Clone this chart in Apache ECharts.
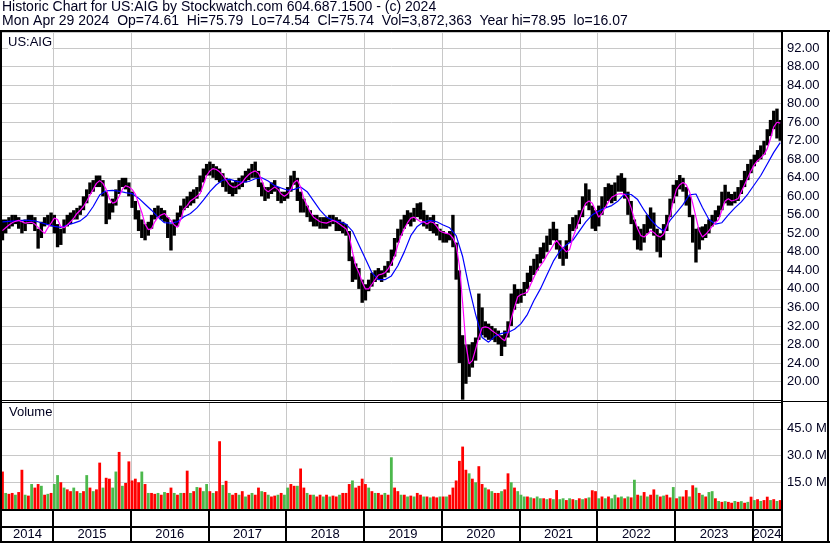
<!DOCTYPE html>
<html><head><meta charset="utf-8">
<script src="https://cdn.jsdelivr.net/npm/echarts@6/dist/echarts.min.js"></script>
<style>html,body{margin:0;padding:0;background:#fff}#c{width:830px;height:543px}</style>
</head><body><div id="c"></div>
<script>
const titleLine1 = 'Historic Chart for US:AIG by Stockwatch.com 604.687.1500 - (c) 2024';
const titleLine2 = 'Mon Apr 29 2024  Op=74.61  Hi=75.79  Lo=74.54  Cl=75.74  Vol=3,872,363  Year hi=78.95  lo=16.07';
const symbolLabel = 'US:AIG';
const volumeLabel = 'Volume';
const yearLabels = ['2014','2015','2016','2017','2018','2019','2020','2021','2022','2023','2024'];

// semi-monthly samples starting early May 2014
const priceHigh = [
55,55,55.5,56,56,55.5,54.5,55,56,56,55.5,53,54.5,55.5,56,56.5,
56,54,53,55,56,56.5,57,57.5,58,60,61.5,63,63.5,64.5,64.5,63.5,61,58.5,59.5,61.5,63.5,64,64,63,
61,59,57,55,54,54.5,56,57.5,58,57.5,57,55.5,54,55,56.5,58,59.5,60,61,61.5,62,64.5,66,67,
67.5,67,66.5,66,65,64,63.5,63,63.5,64,64.5,65.5,66,67,67.5,65.5,63,62,62,63,63.5,62,61,61,
62,64.5,65.5,64,61,59.5,58,57,56,56,55.5,55.5,55.5,56,56,55.5,55,54.5,54,52.5,47,45.5,44.5,42,
41,42,43.5,44,44.5,44,45,46,48.5,51,53,55,56,57,56.5,57.5,58.5,58.7,57,56,55.5,56,54,53,
52.5,52,52.5,56,50,44,30,28,28,28.5,29.5,39,36,33,32.5,32,31.5,31,30,31,33,39,41,40,
40,41.5,43.5,45,46.5,47.5,49,50,51.5,53,54.5,53,50.5,49,50.5,54,55.5,56,57,60,62.8,61.5,58,57,
58,60,62,62.8,62.5,63,64.5,65,64,61,59,55,53.5,53,54,56,57.6,56.5,53,52,54,56,59.5,62.5,
63.5,64.6,64,62,60,56,53,53.3,53.5,54,55,56,57,58,61,62.5,61,60.5,61,62,63.5,65.5,67,68,
69,70,71,72,74.5,76.5,78.5,78.95,76.5];
const priceLow = [
50.5,52,53,53.5,54,53,52,52.5,54,54,52.5,48.7,51,53.5,54,53.5,
52,49,49.5,52,53.5,54,55,55,56,57,58.5,60.5,61,62,62,60,54,55,56.5,58,60.5,62,61.5,60,
57.5,55,52.5,51,50.5,51.5,53,55,55.5,55,54.5,51,48.3,51.5,53.5,55.5,57,57.5,58,58.5,59.5,61,63,64.5,
64.5,64,63.5,63,62,61,60.5,60,60.5,61.5,62,63,63.5,64,64,62,60,59,59.5,60.5,61,59,58.5,59,
59.5,61,62.5,59,56.5,56.5,55.5,54.5,53.5,53.5,53,53,53,53.5,54,52.5,52.5,52,51.5,46,41.5,42,40,37,
37.5,39.5,40.5,41.5,42,41.5,42.5,43.5,45,47,50,51.5,53,54,53.5,54.5,55.5,55,53.5,53,52.5,52,51.5,50.5,
50,50,50.5,49,42,24,16.07,19.5,21,23,24.5,29,30,29.5,29,29,28.5,28,25.5,27.5,29.5,32,35.5,36.8,
37,38.5,40,41.5,43,44,45.5,46.5,48,49.5,50.5,48.5,46.5,45,46.5,50,52.5,53,54,55.5,58,57,53,52.5,
53.5,56,57.6,59,58.5,59,61,61,59.5,56,54,50.5,48.5,48.3,50,52,53,51.5,48,46.8,50.5,52.5,55.5,58.5,
60,61.5,61,58,55.5,50,45.7,48.5,50.5,51,52,53.5,54.5,55.5,57,58.5,58,58,58.5,59,60.5,62,63.5,65,
66.5,67.5,68,69,71,73,74.5,72.5,72];
const maFast = [
52.6,53.2,53.8,54.3,54.6,54.8,54.5,54.2,54.3,54.4,54,53.3,52.6,52,53.2,54.2,
55.3,55,53.5,53.2,53.8,54.5,55.3,56.3,57,57.8,59,60.3,61.5,62.8,63.4,62.8,61.5,59.5,58.5,58.8,60,61.5,62.3,62,
61.5,60.5,58.5,56.5,54,52.8,53,54.5,55.5,56,56.3,55.5,54.8,53.8,53.3,55,57.3,58,59,59.5,60,60.6,62.5,64.5,
65.5,66,65.8,65.3,64.5,63.5,62.5,62,62,62.5,63,64,64.7,65.2,65.5,65,63.5,61.5,61,61.5,62,61.5,60.5,60,
60.5,61.5,63,63.5,62,59.5,58,56.5,55.5,55,54.5,54.3,54.2,54.5,54.8,54.5,54,53.5,53,51.5,48,45,43.5,41.5,
40,40,41,42,43,43.2,43.5,44.3,45.5,47,49.5,51.5,53,54.3,55.3,55.5,55,54.5,54.5,54,54.5,54.3,53.5,52.5,
52.2,52,51.8,51,49.5,45,37,28,23.8,24.5,27,29.5,31.6,31.8,31.6,31,30.5,30,29.3,28.8,30.5,33.5,36,38.3,
38.8,39,39.3,41,42.5,44,45,46,47.3,48.3,49.5,50.5,49.5,48.8,48,48.5,51,53,55,57,58.5,59,58.5,57,
55.5,56.3,57.6,58.8,59.8,60.2,60.5,60.6,60.4,59.5,57.5,55,53,51.5,51.2,51.8,52.6,52.2,51.5,51.2,51.8,53.5,55.8,59,
61.5,62.5,63,62.5,61,58.5,55.5,52.5,51.2,51.8,52.6,53.5,54.3,55,57,59,59.5,59,59.2,59.5,61,62.5,64,65.5,
66.8,67.7,68.3,69,70.3,72.5,75,76,75.8];
// monthly samples
const maSlow = [
54.5,54.6,54.7,54.8,54.8,54.7,54.3,53.9,
53.5,53.3,53.8,54.2,54.7,55.8,57.8,60.3,61.2,61.3,61.1,60.8,
60.6,59.6,58.3,57,55.5,54.3,54.2,54.5,55.6,56.3,57.5,59.2,
61,62.5,63.5,63.7,63.3,63,63.2,63.8,64,63.3,62.3,61.8,
61.3,61.5,62,61,59,57,55.5,54.8,54.5,54,52.5,49.5,
46.5,43.5,42,42,42.8,45,48,51.5,53.5,54.5,54.8,54.5,
53.8,53.2,51.5,47,40.3,34.5,29.5,28.5,29.8,30.4,30.6,31.3,
32.5,34.5,37.5,40,43,46,48.2,49.5,50.5,52.5,54.5,56,
56.8,57.5,58,59,60.5,60.4,59.3,57,55,53.5,52.5,54.8,
56.5,58.2,60.3,60.5,57.6,55,54,54.3,56,57.5,58.8,60.5,
62.5,64.5,67,69.5,71.6];
// volume, millions of shares (semi-monthly)
const volume = [
21,9,8.5,9,8,9.5,22,8,7.5,14,12,14,13,8,8.5,9,
14,19,15,12,11,10,12,10,9,10,19,12,10,11,26,12,17.5,17,12,21,32,13,14.6,26.7,
16,17,15,21,14,9,9,8.5,9,8,9.5,9,12,9,8,9,9,21.5,9,10,12.3,12,10,14,
10,9,10,38,13.5,15.8,9,8,9,8,10,7,8,9,8,12,10,9.5,8,7,7.5,8,9,8,
12,14,13,13,22.7,12,9,8,8,7,8,7,8,7,7.5,7,8,9,9,14,16,12,13,17,
14,12,10,9,9,8,9,8,29,12,10,8,8,7,7.5,7,9,8,7,7,6.5,7,6.5,7,
7,7,8,12,16,27,35,22,20,17,15,24,14,12,11,10,9,9,10,11,20,15,12,10,
8,7,7,6.5,6,7,6,6,5.5,6,5.5,10.6,5.5,6,5,6,5.5,5,6,5.5,6,6.5,10.5,10,
6,7,6,7,6,8,6.5,7,6,7,6.5,16.4,8,7.5,9.5,7,8,11,8,7,7.5,8,6.5,12.3,
6,7,7,10.6,7,13.3,12,9,8,7,9.5,10,6,4.5,4,4.4,4,3.5,4.5,4,4.4,3.5,4,6.9,
5,5.5,4.5,5,6.9,5,5.5,4.5,5];
// volume bar colour: r = down, g = up
const volumeDir =
  'rgrrgrrgrgrrgrgr' +
  'ggrgrrgrgrgrgrrgrrggrgrr' +
  'rrrgrgrrgrgrrgrgrrgrgrgg' +
  'rgrrgrgrrgrgrgrrgrgrrgrg' +
  'grrgrrgrgrrgrgrrgrrrgrrr' +
  'rgrgrrgrgrrgrgrgrrgrgrrg' +
  'rgrrrrrrgrgrrgrgrrgrrgrg' +
  'ggrgrggrgrgrggrgrgrgrgrr' +
  'grgrggrgrgrgrgrgrrgrgrrg' +
  'rgrrgrgrgrggrgrgrrgrgrgr' +
  'grgrrgrgr';

const START = 2014.35;
const X_MIN = 2014.344, X_MAX = 2024.36;
const halfDates = priceHigh.map((_, i) => START + i / 24);
const monthDates = maSlow.map((_, j) => START + j / 12);
const FONT = '"Liberation Sans", Arial, sans-serif';
const TXT = '#000020';
const GREEN = '#4cb84c', RED = '#ff0000';

const chart = echarts.init(document.getElementById('c'), null, {renderer: 'canvas'});

function gridLinesSeries(xi, yi) {
  return {
    type: 'custom', xAxisIndex: xi, yAxisIndex: yi, z: 1, silent: true,
    data: yearLabels.slice(1).map(y => [Number(y)]),
    renderItem: (params, api) => {
      const p = api.coord([api.value(0), 0]);
      const cs = params.coordSys;
      return {type: 'rect', shape: {x: Math.round(p[0]), y: cs.y, width: 1, height: cs.height},
              style: {fill: '#c8c8c8'}};
    }
  };
}

const option = {
  animation: false,
  backgroundColor: '#fff',
  grid: [
    {left: 2, top: 32, width: 779, height: 368},
    {left: 2, top: 402, width: 779, height: 107},
    {left: 2, top: 509, width: 779, height: 34}
  ],
  xAxis: [0, 1, 2].map(i => ({
    type: 'value', gridIndex: i, min: X_MIN, max: X_MAX, show: false, splitLine: {show: false}
  })),
  yAxis: [
    {type: 'value', gridIndex: 0, position: 'right', min: 16, max: 95.5, interval: 4,
     axisLine: {show: false}, axisTick: {show: false},
     splitLine: {lineStyle: {color: '#c8c8c8', width: 1}},
     axisLabel: {showMinLabel: false, showMaxLabel: false, margin: 6, color: TXT,
                 fontFamily: FONT, fontSize: 13, formatter: v => v.toFixed(2)}},
    {type: 'value', gridIndex: 1, position: 'right', min: 0, max: 60, interval: 15,
     axisLine: {show: false}, axisTick: {show: false},
     splitLine: {lineStyle: {color: '#c8c8c8', width: 1}},
     axisLabel: {showMinLabel: false, showMaxLabel: false, margin: 6, color: TXT,
                 fontFamily: FONT, fontSize: 13, formatter: v => v.toFixed(1) + ' M'}},
    {type: 'value', gridIndex: 2, min: 0, max: 1, show: false, splitLine: {show: false}}
  ],
  series: [
    gridLinesSeries(0, 0),
    gridLinesSeries(1, 1),
    {
      type: 'custom', xAxisIndex: 0, yAxisIndex: 0, z: 2, silent: true,
      data: priceHigh.map((h, i) => [halfDates[i], h, priceLow[i]]),
      renderItem: (params, api) => {
        const x = api.value(0);
        const a = api.coord([x, api.value(1)]);
        const b = api.coord([x, api.value(2)]);
        return {type: 'rect', shape: {x: a[0] - 1.7, y: a[1], width: 3.4, height: Math.max(1, b[1] - a[1])},
                style: {fill: '#000'}};
      }
    },
    {
      type: 'line', xAxisIndex: 0, yAxisIndex: 0, z: 3, silent: true, symbol: 'none',
      data: maSlow.map((v, j) => [monthDates[j], v]),
      lineStyle: {color: '#0000ff', width: 1.2}
    },
    {
      type: 'line', xAxisIndex: 0, yAxisIndex: 0, z: 4, silent: true, symbol: 'none',
      data: maFast.map((v, i) => [halfDates[i], v]),
      lineStyle: {color: '#ff00ff', width: 1.2}
    },
    {
      type: 'custom', xAxisIndex: 1, yAxisIndex: 1, z: 2, silent: true,
      data: volume.map((v, i) => [halfDates[i], v, i]),
      renderItem: (params, api) => {
        const x = api.value(0);
        const i = api.value(2);
        const a = api.coord([x, api.value(1)]);
        const b = api.coord([x, 0]);
        return {type: 'rect', shape: {x: a[0] - 1.4, y: a[1], width: 2.8, height: b[1] - a[1]},
                style: {fill: volumeDir[i] === 'g' ? GREEN : RED}};
      }
    },
    {
      type: 'custom', xAxisIndex: 2, yAxisIndex: 2, z: 5, silent: true,
      data: yearLabels.map(y => [Number(y)]),
      renderItem: (params, api) => {
        const yr = api.value(0);
        const cs = params.coordSys;
        const pa = api.coord([Math.max(yr, X_MIN), 0]);
        const pb = api.coord([Math.min(yr + 1, X_MAX), 0]);
        const children = [{
          type: 'text',
          style: {text: String(yr), x: (pa[0] + pb[0]) / 2, y: cs.y + cs.height - 9,
                  align: 'center', verticalAlign: 'middle', font: '13px ' + FONT, fill: TXT}
        }];
        if (yr > X_MIN) {
          children.push({type: 'rect', shape: {x: Math.round(pa[0]) - 1, y: cs.y, width: 2, height: cs.height},
                         style: {fill: '#000'}});
        }
        return {type: 'group', children};
      }
    }
  ],
  graphic: [
    {type: 'text', x: 2, y: 0, z: 10, style: {text: titleLine1, font: '14px ' + FONT, fill: TXT, verticalAlign: 'top'}},
    {type: 'text', x: 2, y: 14.5, z: 10, style: {text: titleLine2, font: '14px ' + FONT, fill: TXT, verticalAlign: 'top'}},
    {type: 'text', x: 8, y: 36, z: 10, style: {text: symbolLabel, font: '13px ' + FONT, fill: TXT, verticalAlign: 'top', backgroundColor: '#fff'}},
    {type: 'text', x: 9, y: 406, z: 10, style: {text: volumeLabel, font: '13px ' + FONT, fill: TXT, verticalAlign: 'top'}},
    {type: 'rect', z: 20, shape: {x: 0, y: 30, width: 830, height: 2}, style: {fill: '#000'}},
    {type: 'rect', z: 20, shape: {x: 0, y: 30, width: 2, height: 513}, style: {fill: '#000'}},
    {type: 'rect', z: 20, shape: {x: 781, y: 30, width: 2, height: 513}, style: {fill: '#000'}},
    {type: 'rect', z: 20, shape: {x: 827, y: 30, width: 2, height: 513}, style: {fill: '#000'}},
    {type: 'rect', z: 20, shape: {x: 0, y: 400, width: 781, height: 1}, style: {fill: '#000'}},
    {type: 'rect', z: 20, shape: {x: 0, y: 402, width: 781, height: 1}, style: {fill: '#000'}},
    {type: 'rect', z: 20, shape: {x: 781, y: 401, width: 48, height: 1}, style: {fill: '#000'}},
    {type: 'rect', z: 20, shape: {x: 0, y: 509, width: 781, height: 2}, style: {fill: '#000'}},
    {type: 'rect', z: 20, shape: {x: 0, y: 526, width: 781, height: 2}, style: {fill: '#000'}},
    {type: 'rect', z: 20, shape: {x: 0, y: 541, width: 830, height: 2}, style: {fill: '#000'}}
  ]
};
chart.setOption(option);
</script>
</body></html>
